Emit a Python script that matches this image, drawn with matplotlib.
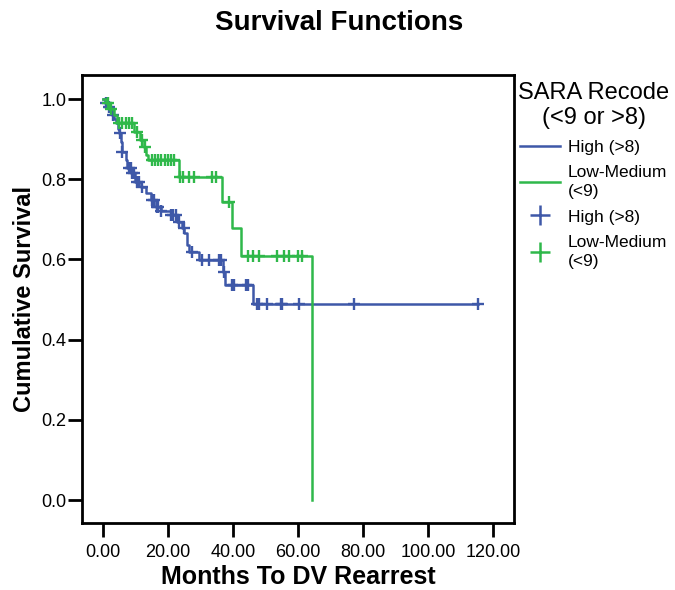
import numpy as np
import matplotlib.pyplot as plt
from matplotlib.lines import Line2D

plt.rcParams["font.family"] = ["Liberation Sans", "DejaVu Sans"]

# ---------------------- data ----------------------
# High (>8): step times and survival after each step
hi_times = [0, 0.5, 1.5, 2.2, 2.8, 3.5, 4, 4.5, 5, 5.5, 5.8, 7, 7.4, 8.6, 10, 11.6,
            13.2, 14.7, 16.3, 17.8, 20.9, 22.7, 24.2, 25.0, 25.8, 26.4, 29.4, 37,
            37.7, 46.3]
hi_surv = [1.0, 0.99, 0.98, 0.97, 0.96, 0.95, 0.94, 0.925, 0.915, 0.893, 0.868, 0.848,
           0.828, 0.815, 0.793, 0.78, 0.765, 0.748, 0.73, 0.72, 0.71, 0.693, 0.678,
           0.666, 0.636, 0.618, 0.598, 0.57, 0.536, 0.489]
hi_end = 115.3
hi_censored = [1, 2, 3, 5.2, 6, 8, 8.5, 9, 9.5, 10.5, 11, 12, 15, 15.6, 16.5, 17, 18,
               21, 21.5, 22.5, 23.5, 24.8, 27.3, 30.4, 32.5, 35.6, 36.2, 37.2, 39.6,
               40.2, 43.9, 44.5, 47.3, 47.9, 50.6, 54.9, 55.2, 60.4, 77.3, 115.3]

# Low-Medium (<9)
lm_times = [0, 1, 2, 3.4, 4.2, 9.5, 11.5, 12.5, 13.3, 14, 23.3, 36.5, 39.6, 42.6, 64.4]
lm_surv = [1.0, 0.99, 0.975, 0.96, 0.94, 0.918, 0.898, 0.88, 0.86, 0.848, 0.805,
           0.743, 0.678, 0.608, 0.0]
lm_end = 64.4
lm_censored = [1.5, 2.5, 5, 6, 7, 8, 9, 10.5, 12, 13, 15, 16, 17, 18, 19, 20, 21, 22,
               23.8, 24.5, 26.4, 27.9, 33.4, 34.7, 38.7, 44.5, 46.3, 47.9, 53.7, 55.8,
               57.4, 60.1, 61.3]

labels = ["High (>8)", "Low-Medium\n(<9)"]
colors = ["#3e58a8", "#2fb84a"]


def surv_at(times, surv, t):
    idx = np.searchsorted(times, t, side="right") - 1
    return np.asarray(surv)[idx]


fig = plt.figure(figsize=(6.75, 5.9), dpi=100)
# axes box: x 82..514 px, y 75..523 px
ax = fig.add_axes([82 / 675, 67 / 590, 432 / 675, 448 / 590])

groups = [(hi_times, hi_surv, hi_end, hi_censored),
          (lm_times, lm_surv, lm_end, lm_censored)]
for (t, s, end, cens), col in zip(groups, colors):
    tt = list(t) + [end]
    ss = list(s) + [s[-1]]
    ax.step(tt, ss, where="post", color=col, lw=1.8)
    cy = surv_at(t, s, cens)
    ax.plot(cens, cy, ls="none", marker="+", ms=8, mew=1.7, color=col)

ax.set_xlim(-6.46, 126.5)
ax.set_ylim(-0.057, 1.06)
ax.set_xticks(np.arange(0, 121, 20))
ax.set_xticklabels([f"{v:.2f}" for v in np.arange(0, 121, 20)])
ax.set_yticks(np.arange(0, 1.01, 0.2))
ax.set_yticklabels([f"{v:.1f}" for v in np.arange(0, 1.01, 0.2)])
ax.tick_params(direction="out", width=2, labelsize=13)
ax.tick_params(axis="x", length=10, pad=5)
ax.tick_params(axis="y", length=10, pad=1)
for sp in ax.spines.values():
    sp.set_linewidth(2)

ax.set_xlabel("Months To DV Rearrest", fontsize=18, fontweight="bold", labelpad=3)
ax.set_ylabel("Cumulative Survival", fontsize=17, fontweight="bold", labelpad=4)
fig.suptitle("Survival Functions", fontsize=20, fontweight="bold", x=0.503, y=0.983)

handles = [Line2D([], [], color=colors[0], lw=1.8),
           Line2D([], [], color=colors[1], lw=1.8),
           Line2D([], [], ls="none", marker="+", ms=15, mew=1.8, color=colors[0]),
           Line2D([], [], ls="none", marker="+", ms=15, mew=1.8, color=colors[1])]
leg = fig.legend(handles, labels + labels, title="SARA Recode\n(<9 or >8)",
                 loc="upper left", bbox_to_anchor=(518 / 675, 1 - 82 / 590),
                 frameon=False, fontsize=12.5, title_fontsize=17,
                 handlelength=2.3, handletextpad=0.45, labelspacing=0.6,
                 borderaxespad=0, borderpad=0)
leg.get_title().set_multialignment("center")
for txt in leg.get_texts():
    txt.set_linespacing(1.3)

fig.savefig("out.png", dpi=100)
